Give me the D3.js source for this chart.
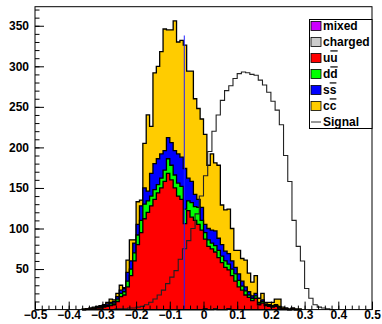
<!DOCTYPE html>
<html>
<head>
<meta charset="utf-8">
<script src="https://cdn.jsdelivr.net/npm/d3@7"></script>
<style>
body { margin: 0; background: #fff; }
text { font-family: "Liberation Sans", Arial, sans-serif; font-weight: bold; }
</style>
</head>
<body>
<script>
// background bins: 0.01 wide, first bin starts at -0.36
var bgStart = -0.36, bgWidth = 0.01;
var mixed   = [0,0,0,0,0,0,0,0,0,0, 0,0,0,0,0,0,0,0,0,0, 0,0,0,0,0,0,0,0,0,0, 0,0,0,0,0,0,1,0,0,0, 0,0,0,1,0,0,0,0,0,0, 0,0,0,0,0,0,0,0,0,0, 0,0,0,0,0];
var charged = [0,0,0,0,0,0,0,0,0,0, 0,0,0,0,0,0,0,0,0,0, 0,0,0,0,0,0,0,0,0,0, 0,0,0,0,0,0,0,0,0,1, 0,0,0,0,0,0,0,0,0,0, 0,0,0,0,0,0,0,0,0,0, 0,0,0,0,0];
var uu = [0,1,1,1,2,2,3,4,5,6, 10,16,18,28,42,60,80,95,112,120, 128,136,144,150,158,168,160,150,140,136, 106,122,114,110,105,98,86,78,75,70, 64,58,52,48,42,35,28,24,18,15, 11,14,6,8,5,4,3,4,2,1, 1,0,1,0,0];
var dd = [0,0,0,0,0,1,1,1,2,2, 3,4,4,7,8,10,12,15,18,14, 12,12,10,12,14,18,18,16,16,16, 18,12,18,17,21,12,8,8,7,8, 9,8,8,7,8,9,8,5,5,3, 3,3,2,2,1,1,1,1,1,0, 0,0,0,0,0];
var ss = [0,0,0,1,1,1,1,2,2,2, 3,4,4,11,10,12,13,18,20,12, 28,32,32,30,24,26,28,30,36,36, 50,28,26,15,10,16,10,14,16,18, 15,14,12,13,10,8,8,6,5,4, 3,3,1,2,1,1,1,1,1,0, 0,0,0,0,0];
var cc = [1,0,1,1,1,1,1,2,4,2, 4,6,1,15,26,4,28,7,55,94, 58,112,114,126,150,133,139,160,138,144, 152,132,136,118,112,109,111,78,94,84, 90,49,51,55,40,21,29,28,33,23, 17,22,5,8,2,3,4,7,9,2, 1,1,1,1,1];

// signal bins: 0.0125 wide, first bin starts at -0.2625
var sigStart = -0.2625, sigWidth = 0.0125;
var signal = [1,1,1,2,2,3,4,6,9,13, 18,24,32,40,48,62,75,85,100,118,
              140,165,195,220,240,258,270,276,285,291, 293,292,290,289,283,277,268,257,246,228,
              190,158,110,78,60,26,14,6,3,2, 1,0];

var cutValue = -0.057, cutHeight = 338;

var layerNames  = ['mixed', 'charged', 'u', 'd', 's', 'c'];
var layerColors = ['#cc00ff', '#cccccc', '#ff0000', '#00ff00', '#0000ff', '#ffcc00'];
var layerVals   = [mixed, charged, uu, dd, ss, cc];

var xTicks = d3.range(-5, 6).map(function(d) { return d / 10; });
var xMinor = d3.range(-50, 51, 2).map(function(d) { return d / 100; });
var yTicks = d3.range(50, 351, 50);
var yMinor = d3.range(0, 371, 10);

var svg = d3.select('body').append('svg')
  .attr('width', 382)
  .attr('height', 324);

var x = d3.scaleLinear().domain([-0.5, 0.5]).range([35, 372]);
var y = d3.scaleLinear().domain([0, 373.5]).range([309.6, 6.7]);

var line = d3.line()
  .x(function(p) { return x(p[0]); })
  .y(function(p) { return y(p[1]); });

var stepPath = function(vals, start, w) {
  var pts = [[start, 0]];
  vals.forEach(function(v, i) {
    pts.push([start + i * w, v], [start + (i + 1) * w, v]);
  });
  pts.push([start + vals.length * w, 0]);
  return line(pts);
};

// cumulative stack, drawn from the top layer down
var run = uu.map(function() { return 0; });
var stacks = layerVals.map(function(vals) {
  run = run.map(function(r, i) { return r + vals[i]; });
  return run;
});

svg.selectAll('path.layer')
  .data(d3.range(stacks.length).reverse())
  .enter().append('path')
  .attr('class', 'layer')
  .attr('d', function(i) { return stepPath(stacks[i], bgStart, bgWidth); })
  .attr('fill', function(i) { return layerColors[i]; })
  .attr('stroke', '#000')
  .attr('stroke-width', 1.3);

svg.append('path')
  .attr('d', stepPath(signal, sigStart, sigWidth))
  .attr('fill', 'none')
  .attr('stroke', '#222')
  .attr('stroke-width', 1.1);

svg.append('line')
  .attr('x1', x(cutValue)).attr('x2', x(cutValue))
  .attr('y1', y(0)).attr('y2', y(cutHeight))
  .attr('stroke', '#2020ff')
  .attr('stroke-width', 1);

// axes, ticks pointing into the frame
var fmt = function(d) { return d === 0 ? '0' : d3.format('.1~f')(d); };

var gx = svg.append('g').attr('transform', 'translate(0,' + y(0) + ')');
gx.call(d3.axisBottom(x).tickValues(xMinor).tickSizeInner(-4).tickSizeOuter(0).tickFormat(''));
gx.call(function(g) { g.select('.domain').remove(); });
var gx2 = svg.append('g').attr('transform', 'translate(0,' + y(0) + ')');
gx2.call(d3.axisBottom(x).tickValues(xTicks).tickSizeInner(-8).tickSizeOuter(0).tickPadding(1).tickFormat(fmt));
gx2.call(function(g) { g.select('.domain').remove(); });

var gy = svg.append('g').attr('transform', 'translate(' + x(-0.5) + ',0)');
gy.call(d3.axisLeft(y).tickValues(yMinor).tickSizeInner(-4.5).tickSizeOuter(0).tickFormat(''));
gy.call(function(g) { g.select('.domain').remove(); });
var gy2 = svg.append('g').attr('transform', 'translate(' + x(-0.5) + ',0)');
gy2.call(d3.axisLeft(y).tickValues(yTicks).tickSizeInner(-9).tickSizeOuter(0).tickPadding(6));
gy2.call(function(g) { g.select('.domain').remove(); });

svg.selectAll('.tick text')
  .attr('font-size', 12)
  .attr('font-family', '"Liberation Sans", Arial, sans-serif')
  .attr('font-weight', 'bold')
  .attr('fill', '#000');
svg.selectAll('.tick line').attr('stroke', '#000');

svg.append('rect')
  .attr('x', x(-0.5)).attr('y', y(373.5))
  .attr('width', x(0.5) - x(-0.5)).attr('height', y(0) - y(373.5))
  .attr('fill', 'none')
  .attr('stroke', '#000')
  .attr('stroke-width', 1);

// legend
var legend = svg.append('g');
legend.append('rect')
  .attr('x', 309.5).attr('y', 19.5)
  .attr('width', 62.5).attr('height', 109)
  .attr('fill', '#fff')
  .attr('stroke', '#000');

var rows = legend.selectAll('g.row')
  .data(layerNames)
  .enter().append('g')
  .attr('class', 'row')
  .attr('transform', function(d, i) { return 'translate(0,' + (26 + i * 16) + ')'; });

rows.append('rect')
  .attr('x', 311).attr('y', -4.5)
  .attr('width', 10).attr('height', 9)
  .attr('fill', function(d, i) { return layerColors[i]; })
  .attr('stroke', '#000')
  .attr('stroke-width', 0.8);

var labels = rows.append('text')
  .attr('x', 323).attr('dy', '0.36em')
  .attr('font-size', 12);
labels.each(function(d, i) {
  var t = d3.select(this);
  if (i < 2) {
    t.text(d);
  } else {
    // quark and anti-quark, the second with a bar
    t.append('tspan').text(d);
    t.append('tspan').text(d).style('text-decoration', 'overline');
  }
});

var sigRow = legend.append('g').attr('transform', 'translate(0,' + (26 + 6 * 16) + ')');
sigRow.append('line')
  .attr('x1', 311).attr('x2', 321)
  .attr('stroke', '#333')
  .attr('stroke-width', 1);
sigRow.append('text')
  .attr('x', 323).attr('dy', '0.36em')
  .attr('font-size', 12)
  .text('Signal');
</script>
</body>
</html>
